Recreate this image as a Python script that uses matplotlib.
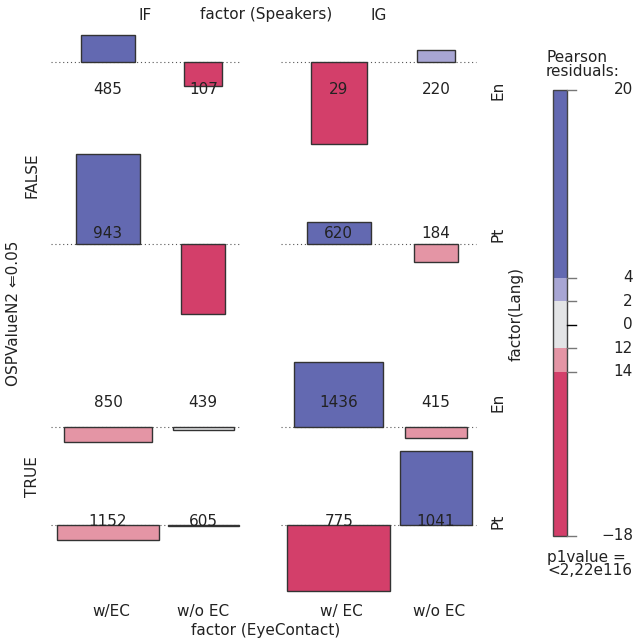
import matplotlib
matplotlib.use("Agg")
import matplotlib.pyplot as plt
from matplotlib.patches import Rectangle
import numpy as np

# ---------------- data ----------------
speakers = ["IF", "IG"]
eye_labels = ["w/EC", "w/o EC", "w/ EC", "w/o EC"]
osp_levels = ["FALSE", "TRUE"]
lang_levels = ["En", "Pt", "En", "Pt"]

# rows: FALSE/En, FALSE/Pt, TRUE/En, TRUE/Pt ; cols: IF w/EC, IF w/o EC, IG w/EC, IG w/o EC
counts = [[485, 107, 29, 220],
          [943, None, 620, 184],
          [850, 439, 1436, 415],
          [1152, 605, 775, 1041]]
residuals = [[6.0, -5.3, -18.2, 2.7],
             [20.0, -15.5, 4.9, -3.9],
             [-3.4, -0.8, 14.3, -2.5],
             [-3.4, -0.2, -14.7, 16.4]]
expected = [[372, 178, 382, 184],
            [493, 242, 509, 242],
            [960, 458, 982, 469],
            [1273, 615, 1306, 633]]

legend_breaks = [20, 4, 2, 0, -2, -4, -18]
legend_labels = ["20", "4", "2", "0", "12", "14", "\u221218"]
pvalue_text = "p1value =\n<2,22e116"

# ---------------- style / layout ----------------
C_BLUE = "#6369B1"
C_LBLUE = "#A8A6D4"
C_GREY = "#E3E4E6"
C_LPINK = "#E495A5"
C_PINK = "#D33F6A"
EDGE = "#333333"
TXT = "#222222"
FS = 11

def shade(r):
    if r > 4:
        return C_BLUE
    if r > 2:
        return C_LBLUE
    if r >= -2:
        return C_GREY
    if r >= -4:
        return C_LPINK
    return C_PINK

col_x = [108, 203.3, 338.7, 436]
row_base = [62, 244, 426.7, 525]
row_label_y = [90, 234, 402.5, 521.5]
group_span = [(51, 240), (281, 476)]
group_center = [145.5, 378.5]
width_scale = 2.85   # px per sqrt(expected)
height_scale = 4.5   # px per residual unit

W, H = 634, 641
fig = plt.figure(figsize=(W / 100, H / 100), dpi=100)
ax = fig.add_axes([0, 0, 1, 1])
ax.set_xlim(0, W)
ax.set_ylim(H, 0)
ax.axis("off")

# baselines
for yb in row_base:
    for (x0, x1) in group_span:
        ax.plot([x0, x1], [yb, yb], linestyle=(0, (1, 2.5)), color="#555555", lw=0.8, zorder=1)

# bars
for i in range(4):
    for j in range(4):
        r = residuals[i][j]
        w = width_scale * np.sqrt(expected[i][j])
        h = height_scale * r
        rect = Rectangle((col_x[j] - w / 2, row_base[i] - max(h, 0)), w, abs(h),
                         facecolor=shade(r), edgecolor=EDGE, lw=1.0, zorder=2)
        ax.add_patch(rect)
        if counts[i][j] is not None:
            ax.text(col_x[j], row_label_y[i], str(counts[i][j]), ha="center", va="center",
                    fontsize=FS, color=TXT, zorder=3)

# top labels
for k, s in enumerate(speakers):
    ax.text(group_center[k], 15, s, ha="center", va="center", fontsize=FS, color=TXT)
ax.text(266, 15, "factor (Speakers)", ha="center", va="center", fontsize=FS, color=TXT)

# bottom labels
for j, s in enumerate(eye_labels):
    ax.text(col_x[j] + (3 if j != 1 else 0), 611.5, s, ha="center", va="center", fontsize=FS, color=TXT)
ax.text(266, 630.5, "factor (EyeContact)", ha="center", va="center", fontsize=FS, color=TXT)

# left labels
ax.text(32.5, 175, osp_levels[0], rotation=90, ha="center", va="center", fontsize=FS, color=TXT)
ax.text(32.5, 477, osp_levels[1], rotation=90, ha="center", va="center", fontsize=FS, color=TXT)
ax.text(13.5, 313, "OSPValueN2 \u21d00.05", rotation=90, ha="center", va="center",
        fontsize=FS, color=TXT, family=["DejaVu Sans"])

# right labels
for i, s in enumerate(lang_levels):
    ax.text(497.5, row_label_y[i], s, rotation=90, ha="center", va="center", fontsize=FS, color=TXT)
ax.text(516.5, 314, "factor(Lang)", rotation=90, ha="center", va="center", fontsize=FS, color=TXT)

# legend colour bar
lx0, lx1 = 553.3, 566.7
ly_top, ly_bot = 90, 536
vmax, vmin = legend_breaks[0], legend_breaks[-1]
def ly(v):
    return ly_top + (vmax - v) * (ly_bot - ly_top) / (vmax - vmin)

seg_bounds = [(20, 4), (4, 2), (2, -2), (-2, -4), (-4, -18)]
seg_cols = [C_BLUE, C_LBLUE, C_GREY, C_LPINK, C_PINK]
for (a, b), c in zip(seg_bounds, seg_cols):
    ax.add_patch(Rectangle((lx0, ly(a)), lx1 - lx0, ly(b) - ly(a), facecolor=c,
                           edgecolor="none", zorder=2))
ax.add_patch(Rectangle((lx0, ly_top), lx1 - lx0, ly_bot - ly_top, facecolor="none",
                       edgecolor="#444444", lw=1.0, zorder=3))
for v, lab in zip(legend_breaks, legend_labels):
    ax.plot([lx1, 576], [ly(v), ly(v)], color=("black" if v == 0 else "#777777"), lw=1.0, zorder=3)
    ax.text(633, ly(v), lab, ha="right", va="center", fontsize=FS, color=TXT)

ax.text(546, 64.5, "Pearson\nresiduals:", ha="left", va="center", fontsize=FS, color=TXT,
        linespacing=0.85)
ax.text(547, 564, pvalue_text, ha="left", va="center", fontsize=FS, color=TXT,
        linespacing=0.85)

fig.savefig("out.png", dpi=100)
